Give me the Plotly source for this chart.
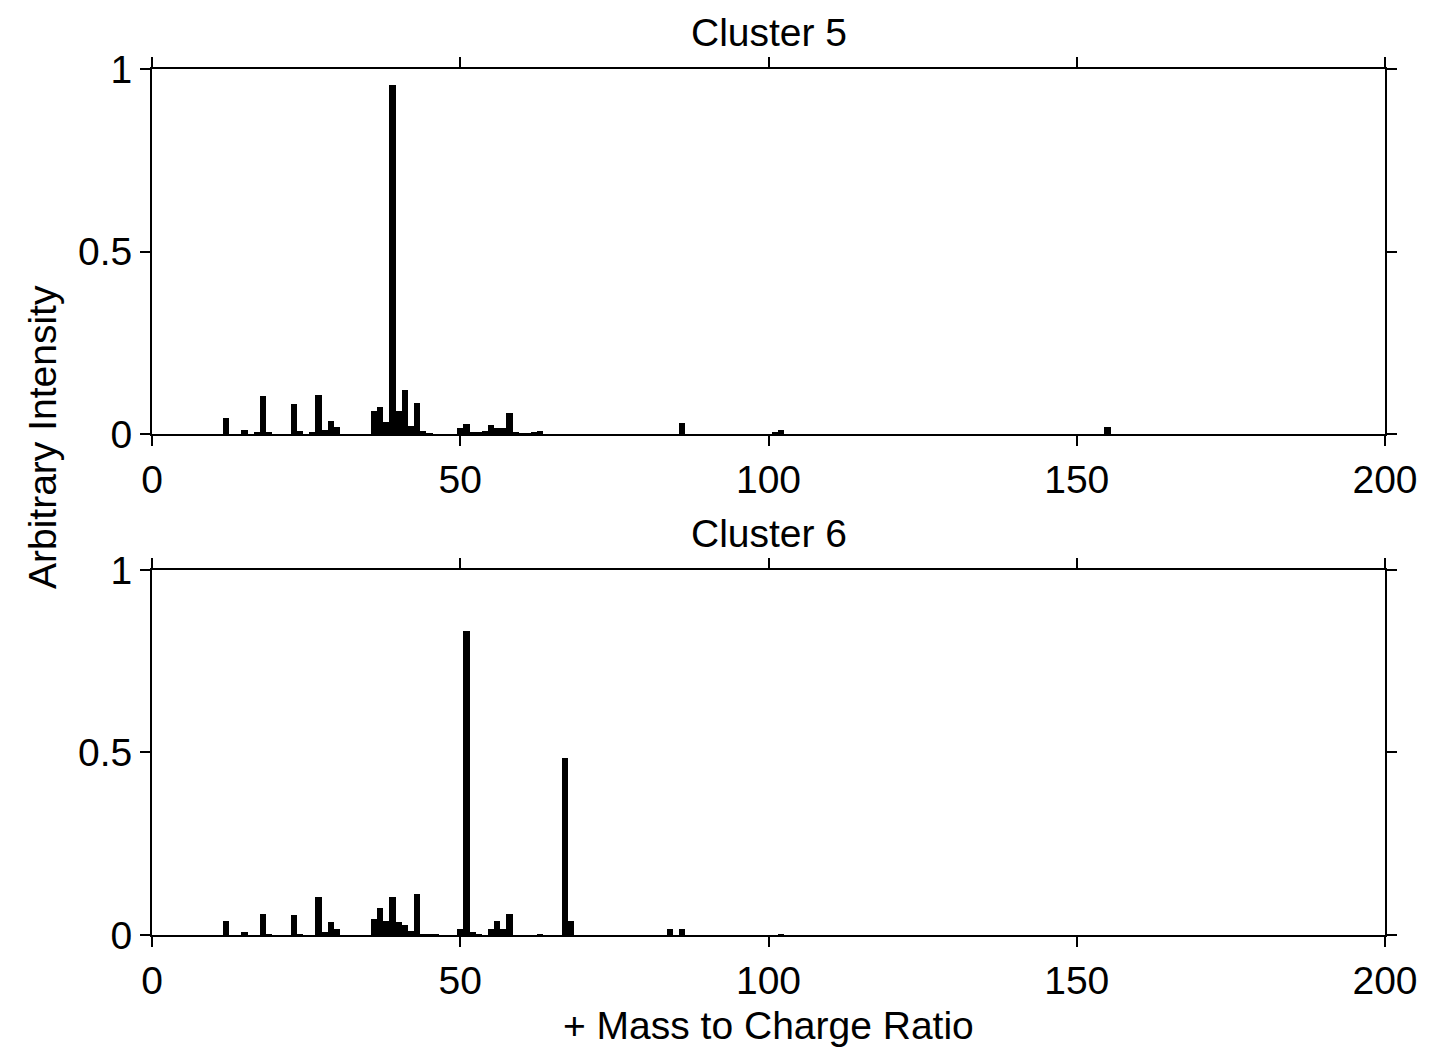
import plotly.graph_objects as go
from plotly.subplots import make_subplots

# Cluster 5 spectrum
mz5 = [12, 15, 17, 18, 19, 23, 24, 26, 27, 28, 29, 30, 36, 37, 38, 39, 40, 41, 42, 43, 44, 45,
       50, 51, 52, 53, 54, 55, 56, 57, 58, 59, 60, 61, 62, 63, 86, 101, 102, 155]
int5 = [0.045, 0.010, 0.006, 0.104, 0.006, 0.081, 0.009, 0.006, 0.107, 0.010, 0.036, 0.018,
        0.064, 0.074, 0.034, 0.955, 0.062, 0.120, 0.023, 0.085, 0.007, 0.003,
        0.016, 0.028, 0.005, 0.005, 0.008, 0.024, 0.016, 0.017, 0.058, 0.006, 0.004, 0.002,
        0.006, 0.007, 0.031, 0.005, 0.011, 0.019]

# Cluster 6 spectrum
mz6 = [12, 15, 18, 19, 23, 24, 27, 28, 29, 30, 36, 37, 38, 39, 40, 41, 42, 43, 44, 45, 46,
       50, 51, 52, 53, 55, 56, 57, 58, 63, 67, 68, 84, 86, 102]
int6 = [0.039, 0.008, 0.057, 0.004, 0.055, 0.003, 0.105, 0.007, 0.037, 0.016,
        0.045, 0.073, 0.039, 0.105, 0.035, 0.027, 0.011, 0.112, 0.004, 0.002, 0.004,
        0.016, 0.833, 0.009, 0.004, 0.016, 0.039, 0.016, 0.058, 0.004, 0.484, 0.039,
        0.016, 0.016, 0.003]

titles = ["Cluster 5", "Cluster 6"]
xticks = [0, 50, 100, 150, 200]
yticks = [0, 0.5, 1]
yticktext = ["0", "0.5", "1"]

FONT = "Liberation Sans, Arial, sans-serif"
FS = 39
TFS = 39

fig = make_subplots(rows=2, cols=1, vertical_spacing=0.157)
fig.add_trace(go.Bar(x=mz5, y=int5, width=1, marker=dict(color="black", line=dict(width=0)),
                     showlegend=False), row=1, col=1)
fig.add_trace(go.Bar(x=mz6, y=int6, width=1, marker=dict(color="black", line=dict(width=0)),
                     showlegend=False), row=2, col=1)

axis_common = dict(showline=True, linecolor="black", linewidth=2, mirror="ticks",
                   ticks="outside", ticklen=10, tickwidth=2, tickcolor="black",
                   showgrid=False, zeroline=False,
                   tickfont=dict(family=FONT, size=FS, color="black"))
for r in (1, 2):
    fig.update_xaxes(range=[0, 200], tickvals=xticks, row=r, col=1, **axis_common)
    fig.update_yaxes(range=[0, 1], tickvals=yticks, ticktext=yticktext, row=r, col=1,
                     **axis_common)

fig.update_layout(
    width=1432, height=1055,
    margin=dict(l=144, r=55, t=61, b=128),
    plot_bgcolor="white", paper_bgcolor="white",
    bargap=0,
    font=dict(family=FONT, size=FS, color="black"),
)

fig.add_annotation(text=titles[0], xref="paper", yref="paper", x=0.5, y=1.0,
                   xanchor="center", yanchor="bottom", yshift=14, showarrow=False,
                   borderpad=0, font=dict(family=FONT, size=TFS, color="black"))
fig.add_annotation(text=titles[1], xref="paper", yref="paper", x=0.5, y=0.4215,
                   xanchor="center", yanchor="bottom", yshift=14, showarrow=False,
                   borderpad=0, font=dict(family=FONT, size=TFS, color="black"))
fig.add_annotation(text="Arbitrary Intensity", xref="paper", yref="paper",
                   x=0, y=0.575, xanchor="center", yanchor="middle", xshift=-110,
                   textangle=-90, showarrow=False,
                   font=dict(family=FONT, size=FS, color="black"))
fig.add_annotation(text="+ Mass to Charge Ratio", xref="paper", yref="paper",
                   x=0.5, y=0, xanchor="center", yanchor="middle", yshift=-90,
                   showarrow=False, font=dict(family=FONT, size=FS, color="black"))

fig.write_html("out.html")
